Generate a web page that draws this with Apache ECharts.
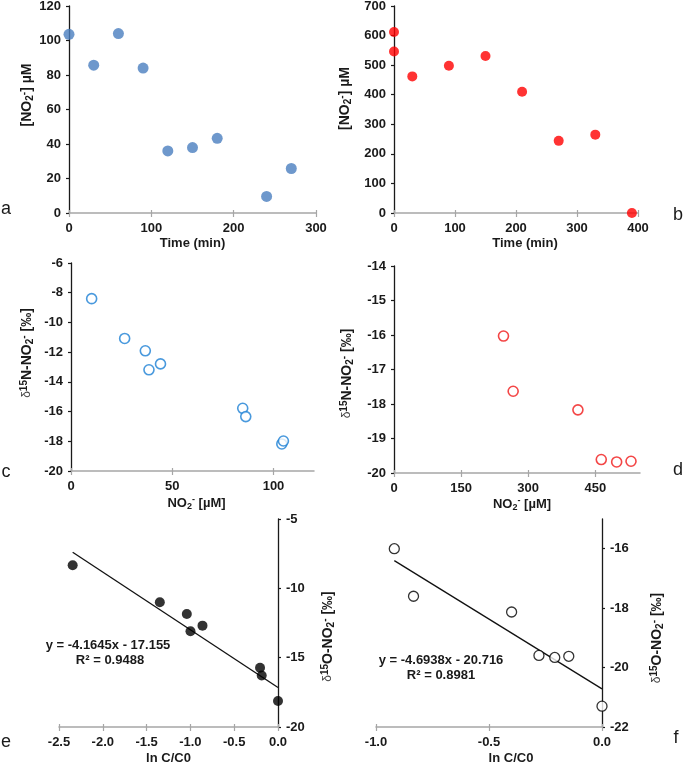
<!DOCTYPE html>
<html>
<head>
<meta charset="utf-8">
<script src="https://cdn.jsdelivr.net/npm/echarts@6/dist/echarts.min.js"></script>
<style>
html,body{margin:0;padding:0;background:#fff;}
#chart{width:685px;height:764px;}
</style>
</head>
<body>
<div id="chart"></div>
<script>
// ---- Panel a: NO2- vs time (blue) ----
const timeA = [0, 30, 60, 90, 120, 150, 180, 240, 270];
const no2A  = [103.6, 85.7, 104, 84, 36, 37.9, 43.3, 9.6, 25.8];
// ---- Panel b: NO2- vs time (red) ----
const timeB = [0, 0, 30, 90, 150, 210, 270, 330, 390];
const no2B  = [612, 546, 462, 498, 531, 410, 244, 265, 0];
// ---- Panel c: d15N vs NO2- (blue) ----
const no2C  = [10.2, 26.5, 36.7, 38.5, 44.2, 84.8, 86.3, 104.1, 104.9];
const d15NC = [-8.4, -11.08, -11.91, -13.19, -12.79, -15.78, -16.34, -18.18, -17.98];
// ---- Panel d: d15N vs NO2- (red) ----
const no2D  = [244.8, 266.4, 411.2, 463.4, 497.8, 529.9];
const d15ND = [-16.03, -17.63, -18.17, -19.61, -19.68, -19.66];
// ---- Panel e: vs ln C/C0 (black filled) ----
const lnCE  = [-2.344, -1.349, -1.041, -0.999, -0.862, -0.205, -0.186, 0.0];
const dE    = [-8.33, -11.0, -11.85, -13.1, -12.69, -15.73, -16.29, -18.12];
const fitE  = [-4.1645, -17.155];   // slope, intercept
const r2E   = 0.9488;
// ---- Panel f: vs ln C/C0 (black open) ----
const lnCF  = [-0.919, -0.834, -0.4, -0.279, -0.209, -0.147, 0.0];
const dF    = [-16.0, -17.6, -18.13, -19.59, -19.66, -19.62, -21.3];
const fitF  = [-4.6938, -20.716];
const r2F   = 0.8981;
// ---- Tick labels ----
const ticksAX = [0, 100, 200, 300];
const ticksAY = [0, 20, 40, 60, 80, 100, 120];
const ticksBX = [0, 100, 200, 300, 400];
const ticksBY = [0, 100, 200, 300, 400, 500, 600, 700];
const ticksCX = [0, 50, 100];
const ticksCY = [-20, -18, -16, -14, -12, -10, -8, -6];
const ticksDX = [0, 150, 300, 450];
const ticksDY = [-20, -19, -18, -17, -16, -15, -14];
const ticksEX = [-2.5, -2.0, -1.5, -1.0, -0.5, 0.0];
const ticksEY = [-20, -15, -10, -5];
const ticksFX = [-1.0, -0.5, 0.0];
const ticksFY = [-22, -20, -18, -16];
const panelLetters = ['a', 'b', 'c', 'd', 'e', 'f'];

const FONT = "'Liberation Sans', Arial, sans-serif";
const TXT = '#1a1a1a';
const zip = (xs, ys) => xs.map((x, i) => [x, ys[i]]);
const fitLine = (xs, fit) => {
  const lo = Math.min(...xs), hi = Math.max(...xs);
  return [[lo, fit[0] * lo + fit[1]], [hi, fit[0] * hi + fit[1]]];
};
const fmtSigned = (v, d) => (v < 0 ? '- ' : '+ ') + Math.abs(v).toFixed(d);

const makeRich = (fs) => ({
  sub: { fontFamily: FONT, fontSize: fs - 4, fontWeight: 'bold', lineHeight: 8, verticalAlign: 'bottom', color: TXT },
  sup: { fontFamily: FONT, fontSize: fs - 4, fontWeight: 'bold', lineHeight: 8, verticalAlign: 'top', color: TXT },
  dl:  { fontFamily: FONT, fontSize: fs - 2, fontWeight: 'normal', lineHeight: 16, color: '#444' }
});
const nameStyle = (pad, fs) => ({
  fontFamily: FONT, fontSize: fs, fontWeight: 'bold', color: TXT, lineHeight: 16,
  padding: pad, rich: makeRich(fs)
});

function xAxisCfg(grid, min, max, ticks, name, gap, pad, dec) {
  return {
    type: 'value', gridIndex: grid, min: min, max: max, position: 'bottom',
    name: name, nameLocation: 'middle', nameGap: gap, nameTextStyle: nameStyle(pad, 13),
    axisLine: { onZero: false, lineStyle: { color: '#a6a6a6', width: 1.5 } },
    axisTick: { show: true, length: 4, customValues: ticks, lineStyle: { color: '#a6a6a6', width: 1.2 } },
    axisLabel: {
      customValues: ticks, margin: 9, fontFamily: FONT, fontSize: 13, fontWeight: 'bold', color: TXT,
      formatter: v => dec ? Number(v).toFixed(dec) : String(v)
    },
    splitLine: { show: false }
  };
}
// inner half of the crossing x ticks
function xInnerTicks(grid, min, max, ticks) {
  return {
    type: 'value', gridIndex: grid, min: min, max: max, position: 'bottom',
    axisLine: { show: false, onZero: false },
    axisTick: { show: true, inside: true, length: 3, customValues: ticks, lineStyle: { color: '#a6a6a6', width: 1.2 } },
    axisLabel: { show: false },
    splitLine: { show: false }
  };
}
function yAxisCfg(grid, min, max, ticks, name, gap, pad, pos) {
  return {
    type: 'value', gridIndex: grid, min: min, max: max, position: pos || 'left',
    name: name, nameLocation: 'middle', nameGap: gap, nameRotate: 90, nameTextStyle: nameStyle(pad, 14),
    axisLine: { onZero: false, lineStyle: { color: '#1a1a1a', width: 1.3 } },
    axisTick: { show: true, length: 3, customValues: ticks, lineStyle: { color: '#1a1a1a', width: 1.2 } },
    axisLabel: { customValues: ticks, margin: 8, fontFamily: FONT, fontSize: 13, fontWeight: 'bold', color: TXT },
    splitLine: { show: false }
  };
}

const nameNO2 = '[NO{sub|2}{sup|-}] µM';
const nameN15 = '{dl|δ}{sup|15}N-NO{sub|2}{sup|-} [‰]';
const nameO15 = '{dl|δ}{sup|15}O-NO{sub|2}{sup|-} [‰]';
const nameConc = 'NO{sub|2}{sup|-} [µM]';

const option = {
  backgroundColor: '#fff',
  animation: false,
  grid: [
    { left: 69, top: 6, width: 247, height: 207, outerBoundsMode: 'none' },
    { left: 394, top: 6, width: 244, height: 207, outerBoundsMode: 'none' },
    { left: 71, top: 263, width: 243, height: 208, outerBoundsMode: 'none' },
    { left: 394, top: 266, width: 246, height: 207, outerBoundsMode: 'none' },
    { left: 59, top: 519, width: 219, height: 208, outerBoundsMode: 'none' },
    { left: 376, top: 519, width: 226, height: 208, outerBoundsMode: 'none' }
  ],
  xAxis: [
    xAxisCfg(0, 0, 300, ticksAX, 'Time (min)', 22, [0, 0, 0, 0], 0),
    xAxisCfg(1, 0, 400, ticksBX, 'Time (min)', 22, [0, 0, 0, 18], 0),
    xAxisCfg(2, 0, 120, ticksCX, nameConc, 24, [0, 0, 0, 8], 0),
    xAxisCfg(3, 0, 550, ticksDX, nameConc, 23, [0, 0, 0, 10], 0),
    xAxisCfg(4, -2.5, 0, ticksEX, 'ln C/C0', 23, [0, 0, 0, 0], 1),
    xAxisCfg(5, -1, 0, ticksFX, 'ln C/C0', 23, [0, 0, 0, 44], 1),
    xInnerTicks(0, 0, 300, ticksAX),
    xInnerTicks(1, 0, 400, ticksBX),
    xInnerTicks(2, 0, 120, ticksCX),
    xInnerTicks(3, 0, 550, ticksDX),
    xInnerTicks(4, -2.5, 0, ticksEX),
    xInnerTicks(5, -1, 0, ticksFX)
  ],
  yAxis: [
    yAxisCfg(0, 0, 120, ticksAY, nameNO2, 29, [0, 0, 0, 29]),
    yAxisCfg(1, 0, 700, ticksBY, nameNO2, 41, [0, 0, 0, 22]),
    yAxisCfg(2, -20, -6, ticksCY, nameN15, 36, [0, 0, 0, 28]),
    yAxisCfg(3, -20, -14, ticksDY, nameN15, 39, [0, 8, 0, 0]),
    yAxisCfg(4, -20, -5, ticksEY, nameO15, 42, [0, 27, 0, 0], 'right'),
    yAxisCfg(5, -22, -15, ticksFY, nameO15, 47, [0, 30, 0, 0], 'right')
  ],
  series: [
    { type: 'scatter', xAxisIndex: 0, yAxisIndex: 0, data: zip(timeA, no2A), symbolSize: 11, clip: false,
      itemStyle: { color: '#4a7ebf' } },
    { type: 'scatter', xAxisIndex: 1, yAxisIndex: 1, data: zip(timeB, no2B), symbolSize: 10, clip: false,
      itemStyle: { color: '#ff0000' } },
    { type: 'scatter', xAxisIndex: 2, yAxisIndex: 2, data: zip(no2C, d15NC), symbolSize: 10, clip: false,
      itemStyle: { color: '#fff', borderColor: '#1c7fd4', borderWidth: 1.6 } },
    { type: 'scatter', xAxisIndex: 3, yAxisIndex: 3, data: zip(no2D, d15ND), symbolSize: 10, clip: false,
      itemStyle: { color: '#fff', borderColor: '#f01818', borderWidth: 1.6 } },
    { type: 'line', xAxisIndex: 4, yAxisIndex: 4, data: fitLine(lnCE, fitE), showSymbol: false, symbol: 'none',
      lineStyle: { color: '#111', width: 1.3 }, z: 1 },
    { type: 'scatter', xAxisIndex: 4, yAxisIndex: 4, data: zip(lnCE, dE), symbolSize: 10, clip: false,
      itemStyle: { color: '#000' }, z: 3 },
    { type: 'line', xAxisIndex: 5, yAxisIndex: 5, data: fitLine(lnCF, fitF), showSymbol: false, symbol: 'none',
      lineStyle: { color: '#111', width: 1.3 }, z: 1 },
    { type: 'scatter', xAxisIndex: 5, yAxisIndex: 5, data: zip(lnCF, dF), symbolSize: 10, clip: false,
      itemStyle: { color: '#fff', borderColor: '#000', borderWidth: 1.3 }, z: 3 }
  ],
  graphic: [
    { type: 'text', x: 6, y: 209, style: { text: panelLetters[0], font: '18px ' + FONT, fill: TXT, align: 'center', verticalAlign: 'middle' } },
    { type: 'text', x: 678, y: 215, style: { text: panelLetters[1], font: '18px ' + FONT, fill: TXT, align: 'center', verticalAlign: 'middle' } },
    { type: 'text', x: 6, y: 472, style: { text: panelLetters[2], font: '18px ' + FONT, fill: TXT, align: 'center', verticalAlign: 'middle' } },
    { type: 'text', x: 678, y: 470, style: { text: panelLetters[3], font: '18px ' + FONT, fill: TXT, align: 'center', verticalAlign: 'middle' } },
    { type: 'text', x: 6, y: 742, style: { text: panelLetters[4], font: '18px ' + FONT, fill: TXT, align: 'center', verticalAlign: 'middle' } },
    { type: 'text', x: 676, y: 738, style: { text: panelLetters[5], font: '18px ' + FONT, fill: TXT, align: 'center', verticalAlign: 'middle' } },
    { type: 'text', x: 108, y: 645, style: { text: 'y = ' + fitE[0] + 'x ' + fmtSigned(fitE[1], 3), font: 'bold 13px ' + FONT, fill: TXT, align: 'center', verticalAlign: 'middle' } },
    { type: 'text', x: 110, y: 660, style: { text: 'R² = ' + r2E.toFixed(4), font: 'bold 13px ' + FONT, fill: TXT, align: 'center', verticalAlign: 'middle' } },
    { type: 'text', x: 441, y: 660, style: { text: 'y = ' + fitF[0] + 'x ' + fmtSigned(fitF[1], 3), font: 'bold 13px ' + FONT, fill: TXT, align: 'center', verticalAlign: 'middle' } },
    { type: 'text', x: 441, y: 675, style: { text: 'R² = ' + r2F.toFixed(4), font: 'bold 13px ' + FONT, fill: TXT, align: 'center', verticalAlign: 'middle' } }
  ]
};

const chart = echarts.init(document.getElementById('chart'), null, { renderer: 'canvas' });
chart.setOption(option);
</script>
</body>
</html>
